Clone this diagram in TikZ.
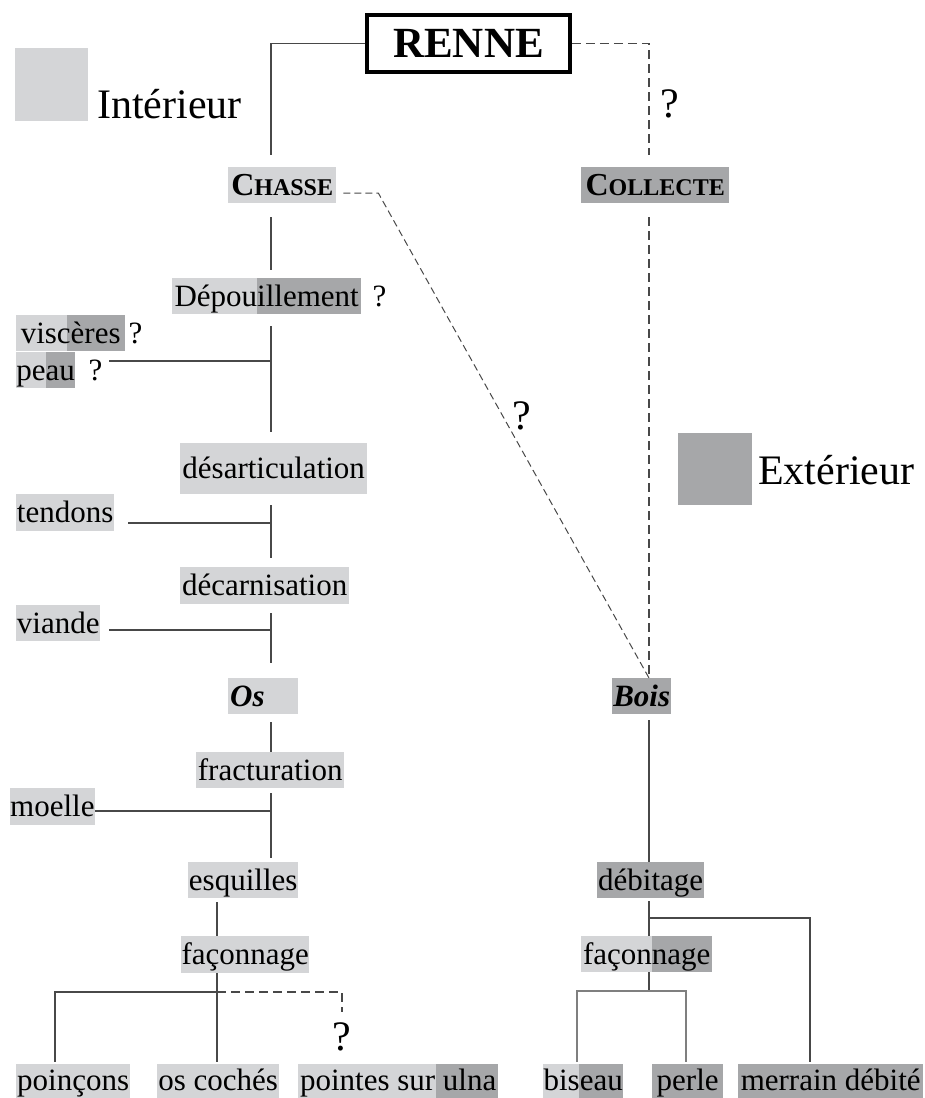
\documentclass[tikz,border=0pt]{standalone}
\usepackage{fontspec}
\setmainfont{Liberation Serif}
\usepackage{xcolor}
\definecolor{inter}{RGB}{212,213,215}
\definecolor{exter}{RGB}{166,167,169}
\definecolor{trait}{RGB}{72,72,72}
\newcommand{\petcap}[2]{{\bfseries\fontsize{32}{32}\selectfont #1\fontsize{24}{24}\selectfont #2}}

\begin{document}
\begin{tikzpicture}[x=1pt,y=-1pt,
	lab/.style={font=\fontsize{31}{31}\selectfont,inner sep=0pt,text height=26pt,text depth=6pt,minimum height=36pt,anchor=north west},
	intbox/.style={lab,fill=inter},
	extbox/.style={lab,fill=exter},
	bas/.style={text depth=14pt,minimum height=40pt},
	mix/.style={lab,fill=inter,path picture={\fill[exter]([xshift=#1]path picture bounding box.south west)rectangle(path picture bounding box.north east);}},
	lien/.style={draw=trait,line width=1.4pt},
	fin/.style={draw=trait!70,line width=1.2pt},
	tiret/.style={lien,dash pattern=on 9pt off 5pt},
	tiretfin/.style={draw=trait,line width=1pt,dash pattern=on 7pt off 4pt},
	grand/.style={font=\fontsize{42}{42}\selectfont,inner sep=0pt},
	qm/.style={font=\fontsize{31}{31}\selectfont,inner sep=0pt,anchor=base west}]

	\clip(0,0)rectangle(924,1098);

	% legende
	\node[fill=inter,minimum size=73pt,inner sep=0pt,anchor=north west](carreI)at(15,48){};
	\node[grand,anchor=base west](legI)at(97,118){Intérieur};
	\node[fill=exter,minimum width=74pt,minimum height=72pt,inner sep=0pt,anchor=north west](carreE)at(678,433){};
	\node[grand,anchor=base west](legE)at(758,484){Extérieur};

	\node[draw=black,line width=3.5pt,minimum width=203pt,minimum height=57pt,inner sep=0pt,font=\bfseries\fontsize{43}{43}\selectfont](renne)at(468.5,43.5){RENNE};

	% os
	\node[intbox,minimum width=108pt](chasse)at(228,167){\petcap{C}{HASSE}};
	\node[mix=85pt,minimum width=189pt](depouil)at(172,278){Dépouillement};
	\node[qm](qDep)at([xshift=11pt]depouil.base east){?};
	\node[mix=51pt,minimum width=109pt](visc)at(16,315){viscères};
	\node[qm](qVisc)at([xshift=3pt]visc.base east){?};
	\node[mix=30pt,minimum width=59pt](peau)at(16,352){peau};
	\node[qm](qPeau)at([xshift=13pt]peau.base east){?};
	\node[intbox,minimum width=187pt,minimum height=51pt](desart)at(180,443){désarticulation};
	\node[intbox,minimum width=98pt,minimum height=37pt](tendons)at(16,494){tendons};
	\node[intbox,minimum width=169pt,minimum height=37pt](decarn)at(180,567){décarnisation};
	\node[intbox,minimum width=84pt](viande)at(16,605){viande};
	\node[intbox,minimum width=70pt,text width=66pt,align=left,font=\fontsize{31}{31}\selectfont\bfseries\itshape](os)at(228,678){Os};
	\node[intbox,minimum width=148pt](fract)at(196,752){fracturation};
	\node[intbox,minimum width=84pt,minimum height=37pt](moelle)at(10,788){moelle};
	\node[intbox,minimum width=110pt](esq)at(188,862){esquilles};
	\node[intbox,minimum width=128pt,minimum height=37pt](faconO)at(181,936){façonnage};
	\node[intbox,bas,minimum width=114pt](poincons)at(16,1064){poinçons};
	\node[intbox,bas,minimum width=122pt](coches)at(157,1064){os cochés};
	\node[mix=138pt,bas,minimum width=200pt](pointes)at(298,1064){pointes sur ulna};

	% bois
	\node[extbox,minimum width=148pt](collecte)at(581,167){\petcap{C}{OLLECTE}};
	\node[extbox,minimum width=59pt,font=\fontsize{31}{31}\selectfont\bfseries\itshape](bois)at(612,678){Bois};
	\node[extbox,minimum width=107pt](debit)at(597,862){débitage};
	\node[mix=71pt,minimum width=131pt](faconB)at(581,936){façonnage};
	\node[mix=36pt,bas,minimum width=80pt](biseau)at(543,1064){biseau};
	\node[extbox,bas,minimum width=71pt](perle)at(652,1064){perle};
	\node[extbox,bas,minimum width=185pt](merrain)at(738,1064){merrain débité};

	\node[grand](qRenne)at(670,104){?};
	\node[grand](qDiag)at(522,416){?};
	\node[grand](qPointes)at(342,1037){?};

	\coordinate(axeG)at(271,0);
	\coordinate(axeF)at(217,0);
	\coordinate(axeD)at(649,0);

	\draw[lien,shorten >=12pt](renne.west)-|(chasse.north-|axeG);
	\draw[tiret,shorten >=12pt](renne.east)-|(collecte.north-|axeD);
	\draw[lien,shorten <=14pt,shorten >=8pt](chasse.south-|axeG)--(depouil.north-|axeG);
	\draw[lien,shorten <=12pt,shorten >=11pt](depouil.south-|axeG)--(desart.north-|axeG);
	\coordinate(bDep)at(271,361);
	\coordinate(fDep)at(109,361);
	\draw[lien](fDep)--(bDep);
	\draw[lien,shorten <=11pt,shorten >=9pt](desart.south-|axeG)--(decarn.north-|axeG);
	\coordinate(bTen)at(271,523);
	\coordinate(fTen)at(128,523);
	\draw[lien](fTen)--(bTen);
	\draw[lien,shorten <=9pt,shorten >=15pt](decarn.south-|axeG)--(os.north-|axeG);
	\coordinate(bVia)at(271,630);
	\coordinate(fVia)at(109,630);
	\draw[lien](fVia)--(bVia);
	\draw[lien,shorten <=8pt](os.south-|axeG)--(fract.north-|axeG);
	\draw[lien,shorten <=5pt,shorten >=4pt](fract.south-|axeG)--(esq.north-|axeG);
	\coordinate(bMoe)at(271,811);
	\draw[lien](moelle.east|-bMoe)--(bMoe);
	\draw[lien,shorten <=4pt](esq.south-|axeF)--(faconO.north-|axeF);
	\draw[lien,shorten >=2pt](faconO.south-|axeF)--(coches.north-|axeF);
	\coordinate(jO)at(217,992);
	\coordinate(cP)at(55,0);
	\coordinate(fQ)at(342,1012);
	\draw[lien,shorten >=2pt](jO)-|(poincons.north-|cP);
	\draw[tiret](jO)-|(fQ);

	\draw[tiret,shorten <=14pt](collecte.south-|axeD)--(bois.north-|axeD);
	\draw[tiretfin]([shift={(7pt,-8pt)}]chasse.east)--++(35,0)--(bois.north-|axeD);
	\draw[lien,shorten <=6pt](bois.south-|axeD)--(debit.north-|axeD);
	\draw[lien,shorten <=3pt](debit.south-|axeD)--(faconB.north-|axeD);
	\coordinate(jD)at(649,918);
	\coordinate(cM)at(810,0);
	\draw[lien,shorten >=2pt](jD)-|(merrain.north-|cM);
	\coordinate(jB)at(649,991);
	\coordinate(cB)at(577,0);
	\coordinate(cPe)at(686,0);
	\draw[lien](faconB.south-|axeD)--(jB);
	\draw[fin,shorten <=2pt](biseau.north-|cB)|-(jB);
	\draw[fin,shorten >=2pt](jB)-|(perle.north-|cPe);
\end{tikzpicture}
\end{document}
